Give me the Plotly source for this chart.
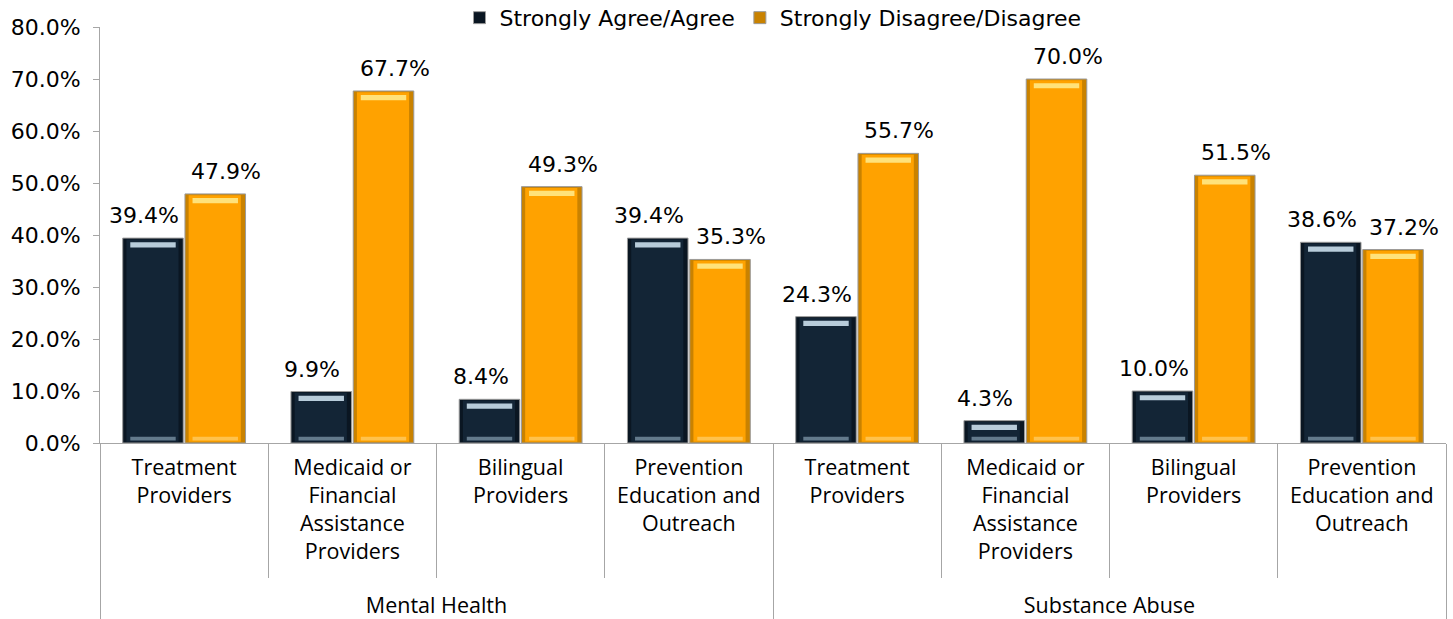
import plotly.graph_objects as go

# Survey results: share of respondents per service type
groups = ["Mental Health"] * 4 + ["Substance Abuse"] * 4
services = [
    "Treatment<br>Providers",
    "Medicaid or<br>Financial<br>Assistance<br>Providers<br> ",
    "Bilingual<br>Providers",
    "Prevention<br>Education and<br>Outreach",
] * 2
agree = [39.4, 9.9, 8.4, 39.4, 24.3, 4.3, 10.0, 38.6]
disagree = [47.9, 67.7, 49.3, 35.3, 55.7, 70.0, 51.5, 37.2]
y_ticks = [0, 10, 20, 30, 40, 50, 60, 70, 80]

LABEL_FONT = "DejaVu Sans, Lato, sans-serif"
CAT_FONT = "Open Sans, Liberation Sans, sans-serif"
AXIS_GREY = "#a6a6a6"
W = 0.36  # bar width in category units

series = [
    dict(name="Strongly Agree/Agree", values=agree, offset=-0.365,
         edge="#0a1622", body="#132536", top="#b8ccda", bottom="#637a8c",
         shift=-9),
    dict(name="Strongly Disagree/Disagree", values=disagree, offset=0.005,
         edge="#c98200", body="#ffa200", top="#ffe27a", bottom="#ffc24d",
         shift=11),
]

x = [groups, services]
n = len(groups)
fig = go.Figure()

for s in series:
    vals = s["values"]
    off = s["offset"]
    # outer bar with border (edge colour)
    fig.add_trace(go.Bar(
        x=x, y=vals, name=s["name"], offset=off, width=W,
        marker=dict(color=s["edge"], line=dict(color="#9a9a9a", width=1)),
        hovertemplate="%{y:.1f}%<extra>" + s["name"] + "</extra>",
    ))
    # inner body, leaving bevelled edges visible
    fig.add_trace(go.Bar(
        x=x, y=[v - 0.5 for v in vals], base=[0.25] * n,
        offset=off + 0.022, width=W - 0.05,
        marker=dict(color=s["body"], line=dict(width=0)),
        showlegend=False, hoverinfo="skip",
    ))
    # top highlight strip
    fig.add_trace(go.Bar(
        x=x, y=[1.0] * n, base=[v - 1.8 for v in vals],
        offset=off + 0.045, width=W - 0.09,
        marker=dict(color=s["top"], line=dict(width=0)),
        showlegend=False, hoverinfo="skip",
    ))
    # bottom highlight strip
    fig.add_trace(go.Bar(
        x=x, y=[0.7] * n, base=[0.5] * n,
        offset=off + 0.045, width=W - 0.09,
        marker=dict(color=s["bottom"], line=dict(width=0)),
        showlegend=False, hoverinfo="skip",
    ))

# value labels above each bar, placed on a linear overlay axis
annotations = []
for s in series:
    for i, v in enumerate(s["values"]):
        annotations.append(dict(
            x=i + s["offset"] + W / 2, y=v, xref="x2", yref="y",
            text=f"{v:.1f}%", showarrow=False, yanchor="bottom",
            yshift=8, xshift=s["shift"],
            font=dict(family=LABEL_FONT, size=22, color="#000000"),
        ))

fig.update_layout(
    width=1453, height=619,
    margin=dict(l=100, r=7, t=27, b=176, autoexpand=False),
    paper_bgcolor="white", plot_bgcolor="white",
    barmode="overlay",
    font=dict(family=LABEL_FONT, color="#000000"),
    annotations=annotations,
    legend=dict(
        orientation="h", x=0.5, xanchor="center", y=1.022, yanchor="middle",
        font=dict(family=LABEL_FONT, size=22, color="#000000"),
        bgcolor="rgba(0,0,0,0)", itemwidth=30,
    ),
    xaxis=dict(
        range=[-0.5, 7.5], showline=True, linecolor=AXIS_GREY, linewidth=1,
        ticks="outside", tickson="boundaries", ticklen=134, tickcolor=AXIS_GREY,
        showdividers=True, dividercolor=AXIS_GREY, dividerwidth=1,
        tickfont=dict(family=CAT_FONT, size=21.5, color="#000000"),
        ticklabelstandoff=5,
        showgrid=False, automargin=False,
    ),
    xaxis2=dict(
        overlaying="x", range=[-0.5, 7.5], visible=False, showgrid=False,
    ),
    yaxis=dict(
        range=[0, 80], tickvals=y_ticks,
        ticktext=[f"{t:.1f}%" for t in y_ticks],
        showline=True, linecolor=AXIS_GREY, linewidth=1,
        ticks="outside", ticklen=6, tickcolor=AXIS_GREY,
        ticklabelstandoff=8,
        showgrid=False, zeroline=False, automargin=False,
        tickfont=dict(family=LABEL_FONT, size=22, color="#000000"),
    ),
)

fig.write_html("out.html")
